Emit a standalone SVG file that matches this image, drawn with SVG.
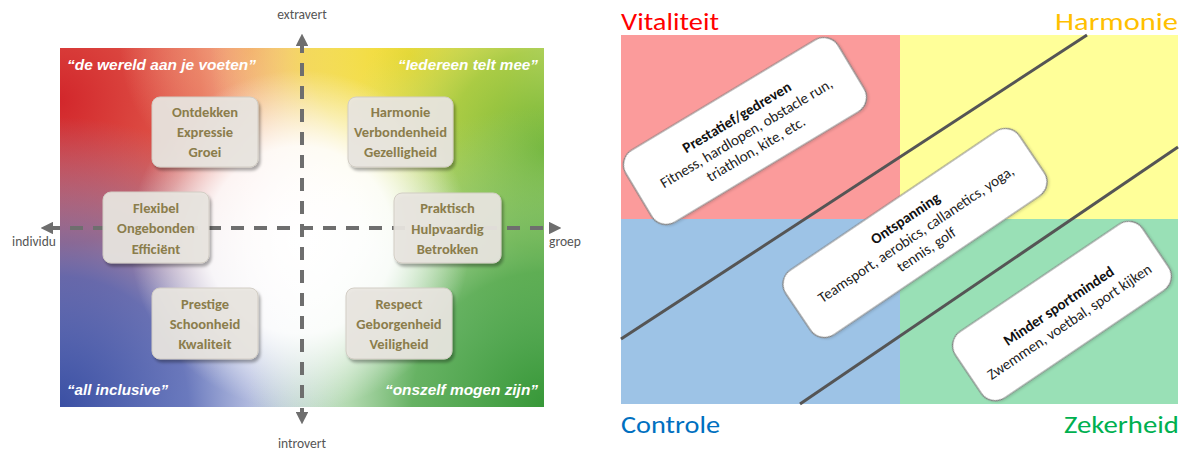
<svg xmlns="http://www.w3.org/2000/svg" width="1191" height="452" viewBox="0 0 1191 452">
<defs>
<style>
.ax{stroke:#6e6e6e;stroke-width:4;stroke-dasharray:13 10;fill:none}
.axl{font-family:Carlito,"Open Sans","Liberation Sans",sans-serif;font-size:13.5px;fill:#555;text-anchor:middle}
.q{font-family:"Liberation Sans",Arial,sans-serif;font-size:15px;font-weight:bold;font-style:italic;fill:#fff}
.lb rect{fill:#e9e6e1;fill-opacity:0.92;stroke:#d2cdc4;stroke-width:1}
.lb text{font-family:Carlito,"Open Sans","Liberation Sans",sans-serif;font-size:14.5px;font-weight:bold;fill:#8b7d4c;text-anchor:middle}
.big{font-family:Carlito,"Open Sans","Liberation Sans",sans-serif;font-size:25px}
.rb rect{fill:#fff;stroke:#7f7f7f;stroke-width:1.2}
.rb text{font-family:Carlito,"Open Sans","Liberation Sans",sans-serif;font-size:15px;fill:#222;text-anchor:middle}
.rb .t{font-weight:bold;fill:#111}
.dl{stroke:#555;stroke-width:3;fill:none}
</style>
<marker id="ah" viewBox="0 0 10 10" refX="5" refY="5" markerWidth="3.2" markerHeight="3.2" orient="auto-start-reverse" markerUnits="strokeWidth">
<path d="M0,0 L10,5 L0,10 z" fill="#6e6e6e"/>
</marker>
<filter id="sh" x="-20%" y="-20%" width="140%" height="140%">
<feDropShadow dx="2" dy="3" stdDeviation="1.8" flood-color="#000" flood-opacity="0.35"/>
</filter>
<filter id="sh2" x="-20%" y="-20%" width="140%" height="140%">
<feDropShadow dx="1" dy="1.5" stdDeviation="1.2" flood-color="#000" flood-opacity="0.15"/>
</filter>
<radialGradient id="gR" cx="58" cy="100" r="320" gradientUnits="userSpaceOnUse"><stop offset="0" stop-color="#d2262b"/><stop offset="0.45" stop-color="#de4a3a" stop-opacity="0.9"/><stop offset="1" stop-color="#f6a07e" stop-opacity="0"/></radialGradient>
<radialGradient id="gO" cx="250" cy="48" r="130" gradientUnits="userSpaceOnUse"><stop offset="0" stop-color="#f29a6a" stop-opacity="0.9"/><stop offset="1" stop-color="#f7c0a0" stop-opacity="0"/></radialGradient>
<radialGradient id="gB" cx="58" cy="407" r="290" gradientUnits="userSpaceOnUse"><stop offset="0" stop-color="#3a4fa3"/><stop offset="0.45" stop-color="#5062b2" stop-opacity="0.85"/><stop offset="1" stop-color="#8fa0d6" stop-opacity="0"/></radialGradient>
<radialGradient id="gY" cx="410" cy="55" r="200" gradientUnits="userSpaceOnUse"><stop offset="0" stop-color="#f1d82a"/><stop offset="0.5" stop-color="#f3df48" stop-opacity="0.8"/><stop offset="1" stop-color="#f8ec90" stop-opacity="0"/></radialGradient>
<radialGradient id="gG1" cx="547" cy="150" r="200" gradientUnits="userSpaceOnUse"><stop offset="0" stop-color="#6fb32e"/><stop offset="0.5" stop-color="#92c43c" stop-opacity="0.75"/><stop offset="1" stop-color="#c8e07a" stop-opacity="0"/></radialGradient>
<radialGradient id="gG2" cx="547" cy="407" r="300" gradientUnits="userSpaceOnUse"><stop offset="0" stop-color="#369737"/><stop offset="0.45" stop-color="#4ca548" stop-opacity="0.85"/><stop offset="1" stop-color="#9fd49a" stop-opacity="0"/></radialGradient>
<radialGradient id="gW" cx="300" cy="240" r="170" gradientUnits="userSpaceOnUse"><stop offset="0" stop-color="#fff"/><stop offset="0.55" stop-color="#fff" stop-opacity="0.9"/><stop offset="1" stop-color="#fff" stop-opacity="0"/></radialGradient>
</defs>

<g id="left-bg">
<rect x="60" y="48" width="484" height="359" fill="#fff"/>
<rect x="60" y="48" width="484" height="359" fill="url(#gR)"/>
<rect x="60" y="48" width="484" height="359" fill="url(#gO)"/>
<rect x="60" y="48" width="484" height="359" fill="url(#gB)"/>
<rect x="60" y="48" width="484" height="359" fill="url(#gY)"/>
<rect x="60" y="48" width="484" height="359" fill="url(#gG1)"/>
<rect x="60" y="48" width="484" height="359" fill="url(#gG2)"/>
<rect x="60" y="48" width="484" height="359" fill="url(#gW)"/>
</g>

<g id="right-quadrants">
<rect x="621" y="35" width="279" height="184" fill="#fb9b9b"/>
<rect x="900" y="35" width="278" height="184" fill="#ffff99"/>
<rect x="621" y="219" width="279" height="185" fill="#9dc3e6"/>
<rect x="900" y="219" width="278" height="185" fill="#99e0b6"/>
</g>

<g id="connectors">
<path class="ax" d="M302,40 V418" marker-start="url(#ah)" marker-end="url(#ah)"/>
<path class="ax" d="M47,228 H555" marker-start="url(#ah)" marker-end="url(#ah)"/>
<path class="dl" d="M1087,35 L621,339"/>
<path class="dl" d="M1178,147 L800,404"/>
</g>

<g id="axis-labels">
<text class="axl" x="302" y="19">extravert</text>
<text class="axl" x="302" y="448">introvert</text>
<text class="axl" x="34" y="246">individu</text>
<text class="axl" x="565" y="246">groep</text>
</g>

<g id="quotes">
<text class="q" x="67" y="70" textLength="189" lengthAdjust="spacingAndGlyphs">“de wereld aan je voeten”</text>
<text class="q" x="398" y="70" textLength="140" lengthAdjust="spacingAndGlyphs">“Iedereen telt mee”</text>
<text class="q" x="67" y="395" textLength="101" lengthAdjust="spacingAndGlyphs">“all inclusive”</text>
<text class="q" x="385" y="395" textLength="153" lengthAdjust="spacingAndGlyphs">“onszelf mogen zijn”</text>
</g>

<g id="lb-ontdekken" class="lb">
<rect x="152" y="97" width="106" height="70" rx="8" filter="url(#sh)"/>
<text x="205" y="116.5">Ontdekken</text><text x="205" y="136.5">Expressie</text><text x="205" y="156.5">Groei</text>
</g>
<g id="lb-harmonie" class="lb">
<rect x="348" y="97" width="105" height="70" rx="8" filter="url(#sh)"/>
<text x="400.5" y="116.5">Harmonie</text><text x="400.5" y="136.5">Verbondenheid</text><text x="400.5" y="156.5">Gezelligheid</text>
</g>
<g id="lb-flexibel" class="lb">
<rect x="103" y="192" width="106" height="71" rx="8" filter="url(#sh)"/>
<text x="156" y="212.5">Flexibel</text><text x="156" y="233">Ongebonden</text><text x="156" y="253.5">Efficiënt</text>
</g>
<g id="lb-praktisch" class="lb">
<rect x="394" y="193" width="107" height="70" rx="8" filter="url(#sh)"/>
<text x="447.5" y="213">Praktisch</text><text x="447.5" y="234">Hulpvaardig</text><text x="447.5" y="254">Betrokken</text>
</g>
<g id="lb-prestige" class="lb">
<rect x="152" y="288" width="106" height="71" rx="8" filter="url(#sh)"/>
<text x="205" y="309">Prestige</text><text x="205" y="329">Schoonheid</text><text x="205" y="349">Kwaliteit</text>
</g>
<g id="lb-respect" class="lb">
<rect x="346" y="288" width="106" height="71" rx="8" filter="url(#sh)"/>
<text x="399" y="309">Respect</text><text x="399" y="329">Geborgenheid</text><text x="399" y="349">Veiligheid</text>
</g>

<g id="quadrant-labels">
<text class="big" x="621" y="30" fill="#ff0000" textLength="98" lengthAdjust="spacingAndGlyphs">Vitaliteit</text>
<text class="big" x="1055" y="30" fill="#ffc000" textLength="123" lengthAdjust="spacingAndGlyphs">Harmonie</text>
<text class="big" x="621" y="433" fill="#0070c0" textLength="99" lengthAdjust="spacingAndGlyphs">Controle</text>
<text class="big" x="1064" y="433" fill="#00b050" textLength="115" lengthAdjust="spacingAndGlyphs">Zekerheid</text>
</g>

<g id="rb-prestatief" class="rb" transform="translate(745,131) rotate(-31)">
<rect x="-124" y="-42" width="248" height="84" rx="17" filter="url(#sh2)"/>
<text class="t" y="-11">Prestatief/gedreven</text>
<text y="7.5">Fitness, hardlopen, obstacle run,</text>
<text y="26">triathlon, kite, etc.</text>
</g>
<g id="rb-ontspanning" class="rb" transform="translate(915,233) rotate(-34)">
<rect x="-141" y="-39" width="282" height="78" rx="17" filter="url(#sh2)"/>
<text class="t" y="-12.5">Ontspanning</text>
<text y="6.5">Teamsport, aerobics, callanetics, yoga,</text>
<text y="25">tennis, golf</text>
</g>
<g id="rb-minder" class="rb" transform="translate(1062,311) rotate(-34)">
<rect x="-113" y="-40" width="226" height="80" rx="17" filter="url(#sh2)"/>
<text class="t" y="-1">Minder sportminded</text>
<text y="18">Zwemmen, voetbal, sport kijken</text>
</g>
</svg>
